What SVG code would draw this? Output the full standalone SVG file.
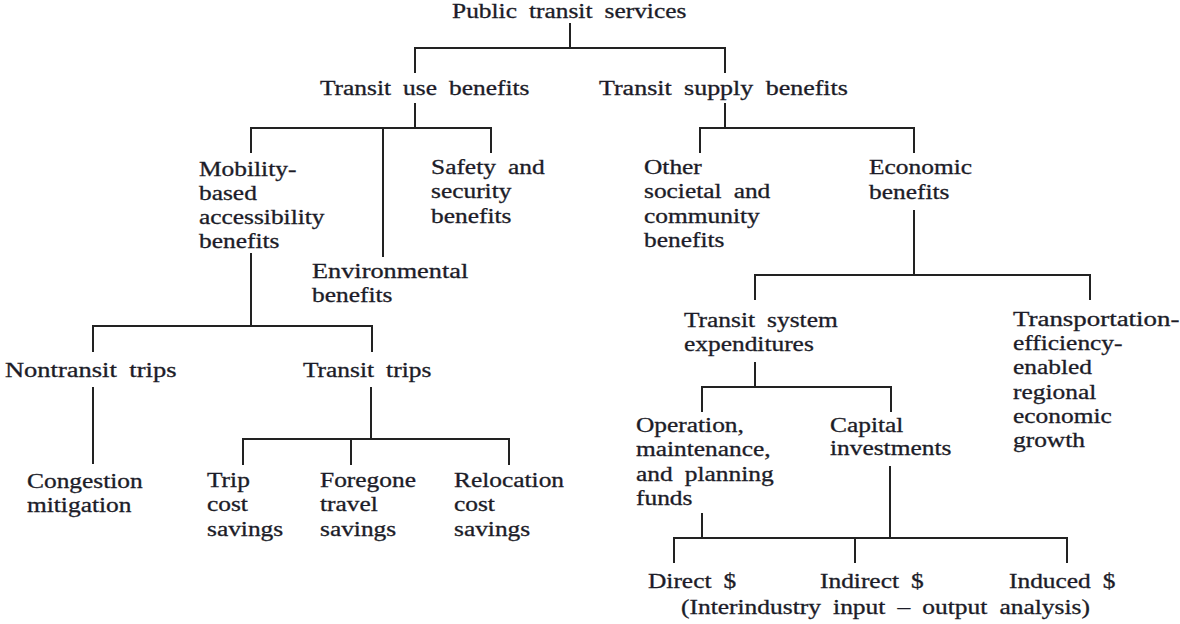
<svg xmlns="http://www.w3.org/2000/svg" width="1180" height="624" viewBox="0 0 1180 624">
<style>
text{font-family:"Liberation Serif","Times New Roman",serif;font-size:20px;fill:#1c1c28;stroke:#1c1c28;stroke-width:0.3px;word-spacing:4.5px}
.c path{fill:none;stroke:#222;stroke-width:2}
</style>
<rect width="1180" height="624" fill="#fff"/>
<g class="c" id="connectors">
<path d="M570,23V48M415,73V48H725V73"/>
<path d="M415,103V128M251,153V128H491V153M383,128V257"/>
<path d="M725,103V128M700,153V128H914V153"/>
<path d="M251,253V326M93,352V326H372V352"/>
<path d="M914,210V275M755,300V275H1090V300"/>
<path d="M93,387V464"/>
<path d="M371,387V439M243,465V439H509V465M351,439V465"/>
<path d="M755,362V387M702,412V387H891V412"/>
<path d="M702,513V538M890,466V538M674,563V538H1067V563M855,538V563"/>
</g>
<g id="root"><text transform="translate(452,18) scale(1.27,1)">Public transit services</text></g>
<g id="use"><text transform="translate(320,95) scale(1.27,1)">Transit use benefits</text></g>
<g id="supply"><text transform="translate(599,95) scale(1.27,1)" textLength="196" lengthAdjust="spacingAndGlyphs">Transit supply benefits</text></g>
<g id="mobility"><text transform="translate(199,176) scale(1.27,1)"><tspan x="0" y="0">Mobility-</tspan><tspan x="0" dy="24">based</tspan><tspan x="0" dy="24">accessibility</tspan><tspan x="0" dy="24">benefits</tspan></text></g>
<g id="environmental"><text transform="translate(312,278) scale(1.27,1)"><tspan x="0" y="0" textLength="123" lengthAdjust="spacingAndGlyphs">Environmental</tspan><tspan x="0" dy="24.5">benefits</tspan></text></g>
<g id="safety"><text transform="translate(431,174) scale(1.27,1)"><tspan x="0" y="0">Safety and</tspan><tspan x="0" dy="24.5">security</tspan><tspan x="0" dy="24.5">benefits</tspan></text></g>
<g id="other"><text transform="translate(644,174) scale(1.27,1)"><tspan x="0" y="0">Other</tspan><tspan x="0" dy="24.5">societal and</tspan><tspan x="0" dy="24.5">community</tspan><tspan x="0" dy="24.5">benefits</tspan></text></g>
<g id="economic"><text transform="translate(869,174) scale(1.27,1)"><tspan x="0" y="0">Economic</tspan><tspan x="0" dy="25">benefits</tspan></text></g>
<g id="nontransit"><text transform="translate(5,377) scale(1.27,1)" textLength="135" lengthAdjust="spacingAndGlyphs">Nontransit trips</text></g>
<g id="transit-trips"><text transform="translate(303,377) scale(1.27,1)">Transit trips</text></g>
<g id="congestion"><text transform="translate(27,488) scale(1.27,1)"><tspan x="0" y="0">Congestion</tspan><tspan x="0" dy="24.5">mitigation</tspan></text></g>
<g id="trip-cost"><text transform="translate(207,487) scale(1.27,1)"><tspan x="0" y="0">Trip</tspan><tspan x="0" dy="24.5">cost</tspan><tspan x="0" dy="24.5">savings</tspan></text></g>
<g id="foregone"><text transform="translate(320,487) scale(1.27,1)"><tspan x="0" y="0">Foregone</tspan><tspan x="0" dy="24.5">travel</tspan><tspan x="0" dy="24.5">savings</tspan></text></g>
<g id="relocation"><text transform="translate(454,487) scale(1.27,1)"><tspan x="0" y="0">Relocation</tspan><tspan x="0" dy="24.5">cost</tspan><tspan x="0" dy="24.5">savings</tspan></text></g>
<g id="expenditures"><text transform="translate(684,327) scale(1.27,1)"><tspan x="0" y="0">Transit system</tspan><tspan x="0" dy="24.5">expenditures</tspan></text></g>
<g id="growth"><text transform="translate(1013,326) scale(1.27,1)"><tspan x="0" y="0" textLength="131" lengthAdjust="spacingAndGlyphs">Transportation-</tspan><tspan x="0" dy="24.2">efficiency-</tspan><tspan x="0" dy="24.2">enabled</tspan><tspan x="0" dy="24.2">regional</tspan><tspan x="0" dy="24.2">economic</tspan><tspan x="0" dy="24.2">growth</tspan></text></g>
<g id="operation"><text transform="translate(636,432) scale(1.27,1)"><tspan x="0" y="0">Operation,</tspan><tspan x="0" dy="24.3">maintenance,</tspan><tspan x="0" dy="24.3">and planning</tspan><tspan x="0" dy="24.3">funds</tspan></text></g>
<g id="capital"><text transform="translate(830,432) scale(1.27,1)"><tspan x="0" y="0">Capital</tspan><tspan x="0" dy="23.5">investments</tspan></text></g>
<g id="direct"><text transform="translate(648,588) scale(1.27,1)">Direct $</text></g>
<g id="indirect"><text transform="translate(820,588) scale(1.27,1)">Indirect $</text></g>
<g id="induced"><text transform="translate(1009,588) scale(1.27,1)">Induced $</text></g>
<g id="io-analysis"><text transform="translate(681,614) scale(1.27,1)" textLength="322" lengthAdjust="spacingAndGlyphs">(Interindustry input – output analysis)</text></g>
</svg>
